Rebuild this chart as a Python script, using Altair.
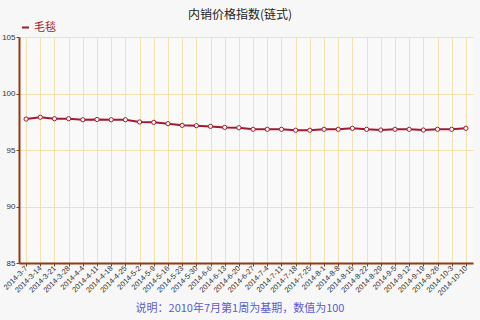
import altair as alt
import pandas as pd

dates = ["2014-3-7", "2014-3-14", "2014-3-21", "2014-3-28", "2014-4-4", "2014-4-11",
         "2014-4-18", "2014-4-25", "2014-5-2", "2014-5-9", "2014-5-16", "2014-5-23",
         "2014-5-30", "2014-6-6", "2014-6-13", "2014-6-20", "2014-6-27", "2014-7-4",
         "2014-7-11", "2014-7-18", "2014-7-25", "2014-8-1", "2014-8-8", "2014-8-15",
         "2014-8-22", "2014-8-29", "2014-9-5", "2014-9-12", "2014-9-19", "2014-9-26",
         "2014-10-3", "2014-10-10"]
values = [97.74, 97.90, 97.77, 97.77, 97.68, 97.70, 97.68, 97.68, 97.48, 97.45,
          97.33, 97.18, 97.15, 97.09, 97.00, 96.97, 96.83, 96.83, 96.83, 96.75,
          96.75, 96.83, 96.83, 96.92, 96.83, 96.77, 96.83, 96.83, 96.77, 96.83,
          96.83, 96.92]
series_name = "毛毯"
title_text = "内销价格指数(链式)"
note_text = "说明：2010年7月第1周为基期，数值为100"

df = pd.DataFrame({"date": dates, "value": values, "series": [series_name] * len(dates)})

RED = "#a3192f"
AXIS = "#8e3b12"
GRID = "#f3e2b0"
CJK = "Noto Sans CJK SC"
LAT = "Liberation Sans"

x_enc = alt.X("date:N", sort=dates, title=None,
              scale=alt.Scale(type="point", padding=0.5),
              axis=alt.Axis(labelAngle=-45, labelAlign="right", labelBaseline="middle",
                            labelFontSize=7.5, labelFont=LAT, labelColor="#333",
                            labelPadding=1, tickSize=3, tickColor=AXIS, domainColor=AXIS,
                            domainWidth=2, grid=True, gridColor=GRID, labelOverlap=False))
y_enc = alt.Y("value:Q", title=None,
              scale=alt.Scale(domain=[85, 105], nice=False, zero=False),
              axis=alt.Axis(values=[85, 90, 95, 100, 105], labelFontSize=8,
                            labelFont=LAT, labelColor="#333", tickSize=3,
                            tickColor=AXIS, domainColor=AXIS, domainWidth=2,
                            gridColor=GRID, labelPadding=1))

color_enc = alt.Color("series:N", scale=alt.Scale(range=[RED]),
                      legend=alt.Legend(title=None, orient="none", legendX=1, legendY=-15,
                                        symbolType="stroke", symbolSize=50,
                                        symbolStrokeWidth=2, labelColor=RED,
                                        labelFont=CJK, labelFontSize=11,
                                        labelOffset=3))

line = alt.Chart(df).mark_line(strokeWidth=2).encode(x=x_enc, y=y_enc, color=color_enc)
pts = alt.Chart(df).mark_point(filled=True, fill="white", stroke=RED, strokeWidth=1,
                               size=18, opacity=1).encode(x=x_enc, y=y_enc)

texts = pd.DataFrame({"t": [title_text], "n": [note_text]})
title = alt.Chart(texts).mark_text(font=CJK, fontSize=12, color="#222",
                                   align="center", baseline="middle").encode(
    text="t:N", x=alt.value(221), y=alt.value(-22))
note = alt.Chart(texts).mark_text(font=CJK, fontSize=11, color="#5b5bd0",
                                  align="center", baseline="middle").encode(
    text="n:N", x=alt.value(221), y=alt.value(272))

chart = alt.layer(line, pts, title, note).properties(
    width=454, height=226,
    autosize=alt.AutoSizeParams(type="none"),
    padding={"left": 19, "top": 37, "right": 7, "bottom": 57},
    background="#f7f7f7",
).configure_view(stroke=None, fill="#f9f9f9")

chart.save("out.html", embed_options={"renderer": "svg", "actions": False})
